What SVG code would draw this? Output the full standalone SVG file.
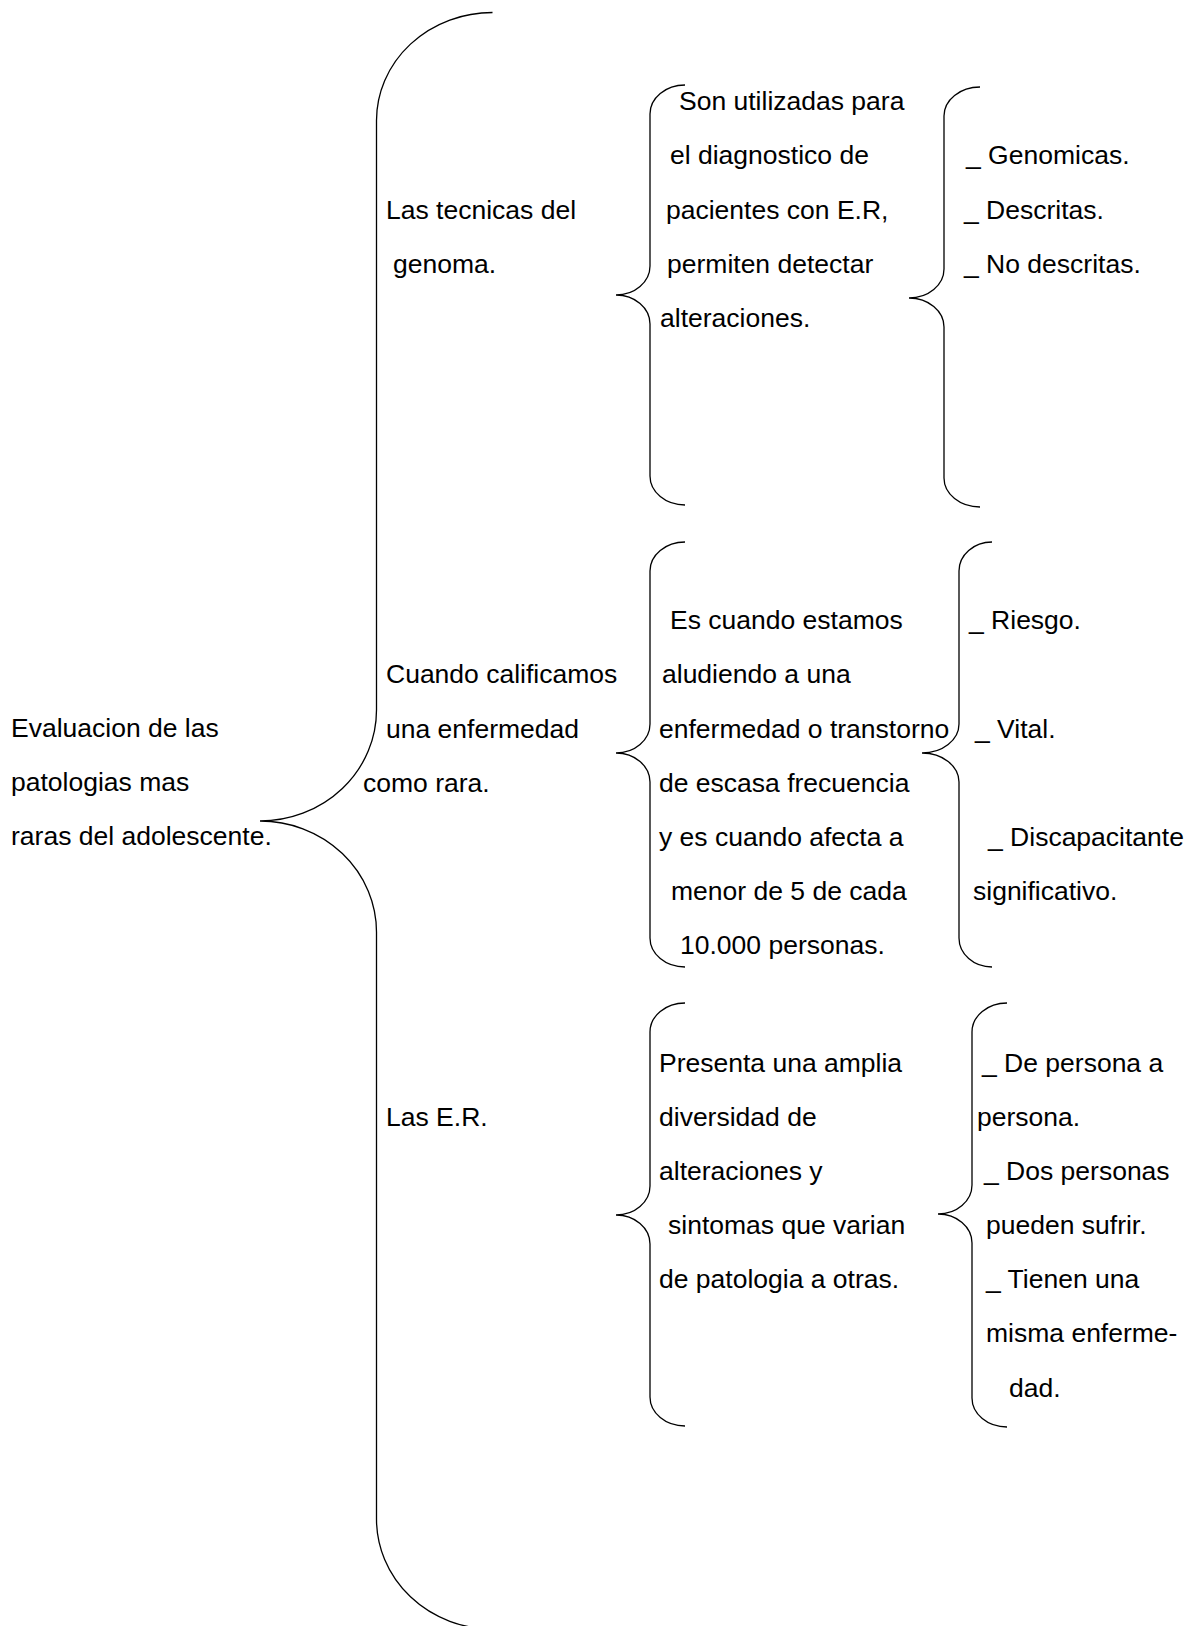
<svg xmlns="http://www.w3.org/2000/svg" width="1190" height="1626" viewBox="0 0 1190 1626">
<style>
text{font-family:"Liberation Sans",Arial,sans-serif;font-size:26.5px;fill:#000}
.br{fill:none;stroke:#000;stroke-width:1.3}
</style>
<rect width="1190" height="1626" fill="#fff"/>
<g id="connectors">
<path class="br" d="M492.5,12.5 A116,108 0 0 0 376.5,120.5 L376.5,710 A116.5,111 0 0 1 260,821 A116.5,111 0 0 1 376.5,932 L376.5,1519 A116,110 0 0 0 492.5,1629"/>
<path class="br" d="M685,85 A35,29 0 0 0 650,114 L650,266 A34,29 0 0 1 616,295 A34,29 0 0 1 650,324 L650,476 A35,29 0 0 0 685,505"/>
<path class="br" d="M980,87 A36,29 0 0 0 944,116 L944,269 A35,29 0 0 1 909,298 A35,29 0 0 1 944,327 L944,478 A36,29 0 0 0 980,507"/>
<path class="br" d="M685,542 A35,29 0 0 0 650,571 L650,724 A34,29 0 0 1 616,753 A34,29 0 0 1 650,782 L650,938 A35,29 0 0 0 685,967"/>
<path class="br" d="M992,542 A33,29 0 0 0 959,571 L959,724 A37,29 0 0 1 922,753 A37,29 0 0 1 959,782 L959,938 A33,29 0 0 0 992,967"/>
<path class="br" d="M685,1003 A35,29 0 0 0 650,1032 L650,1186 A34,29 0 0 1 616,1215 A34,29 0 0 1 650,1244 L650,1397 A35,29 0 0 0 685,1426"/>
<path class="br" d="M1007,1003 A35,29 0 0 0 972,1032 L972,1185 A34,29 0 0 1 938,1214 A34,29 0 0 1 972,1243 L972,1398 A35,29 0 0 0 1007,1427"/>
</g>
<g id="root">
<text x="11" y="737">Evaluacion de las</text>
<text x="11" y="791">patologias mas</text>
<text x="11" y="845">raras del adolescente.</text>
</g>
<g id="tecnicas">
<text x="386" y="219">Las tecnicas del</text>
<text x="393" y="273">genoma.</text>
</g>
<g id="tecnicas-desc">
<text x="679" y="110">Son utilizadas para</text>
<text x="670" y="164">el diagnostico de</text>
<text x="666" y="219">pacientes con E.R,</text>
<text x="667" y="273">permiten detectar</text>
<text x="660" y="327">alteraciones.</text>
</g>
<g id="tecnicas-tipos">
<text x="966" y="164">_ Genomicas.</text>
<text x="964" y="219">_ Descritas.</text>
<text x="964" y="273">_ No descritas.</text>
</g>
<g id="calificamos">
<text x="386" y="683">Cuando calificamos</text>
<text x="386" y="738">una enfermedad</text>
<text x="363" y="792">como rara.</text>
</g>
<g id="calificamos-desc">
<text x="670" y="629">Es cuando estamos</text>
<text x="662" y="683">aludiendo a una</text>
<text x="659" y="738">enfermedad o transtorno</text>
<text x="659" y="792">de escasa frecuencia</text>
<text x="659" y="846">y es cuando afecta a</text>
<text x="671" y="900">menor de 5 de cada</text>
<text x="680" y="954">10.000 personas.</text>
</g>
<g id="calificamos-tipos">
<text x="969" y="629">_ Riesgo.</text>
<text x="975" y="738">_ Vital.</text>
<text x="988" y="846">_ Discapacitante</text>
<text x="973" y="900">significativo.</text>
</g>
<g id="er">
<text x="386" y="1126">Las E.R.</text>
</g>
<g id="er-desc">
<text x="659" y="1072">Presenta una amplia</text>
<text x="659" y="1126">diversidad de</text>
<text x="659" y="1180">alteraciones y</text>
<text x="668" y="1234">sintomas que varian</text>
<text x="659" y="1288">de patologia a otras.</text>
</g>
<g id="er-variacion">
<text x="982" y="1072">_ De persona a</text>
<text x="977" y="1126">persona.</text>
<text x="984" y="1180">_ Dos personas</text>
<text x="986" y="1234">pueden sufrir.</text>
<text x="986" y="1288">_ Tienen una</text>
<text x="986" y="1342">misma enferme-</text>
<text x="1009" y="1397">dad.</text>
</g>
</svg>
